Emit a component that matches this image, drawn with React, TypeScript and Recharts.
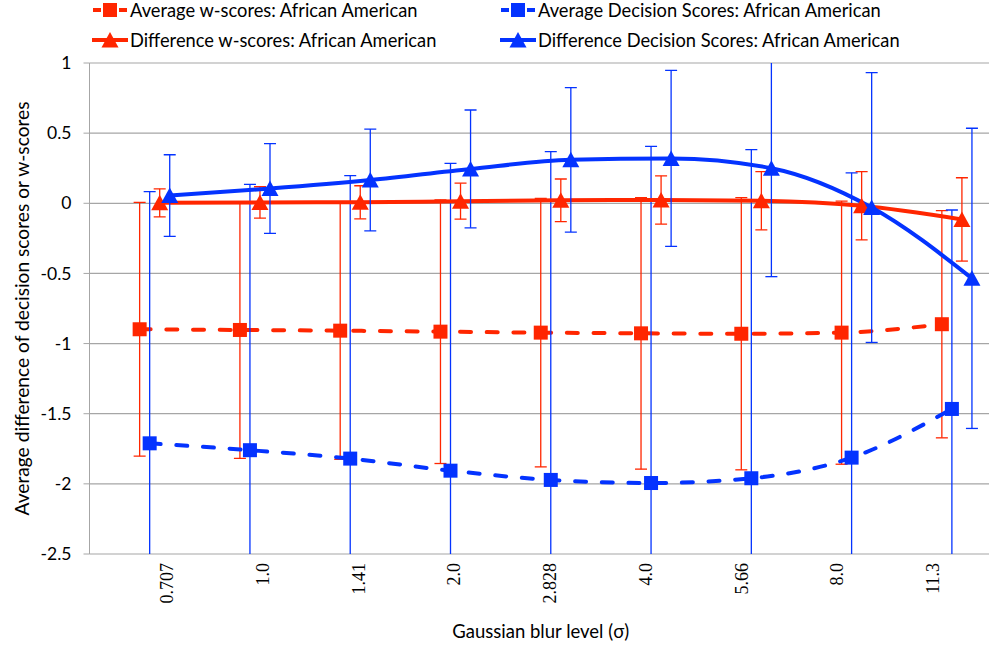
import React from 'react';
import { ComposedChart, Line, XAxis, YAxis, CartesianGrid, ErrorBar, Label } from 'recharts';

const categories = ['0.707', '1.0', '1.41', '2.0', '2.828', '4.0', '5.66', '8.0', '11.3'];

const avgW = [-0.898, -0.903, -0.908, -0.915, -0.922, -0.927, -0.93, -0.922, -0.862];
const avgWErr = [0.905, 0.915, 0.917, 0.94, 0.957, 0.968, 0.97, 0.938, 0.81];

const avgD = [-1.711, -1.76, -1.82, -1.906, -1.972, -1.994, -1.96, -1.813, -1.466];
const avgDErr = [1.794, 1.895, 2.017, 2.19, 2.34, 2.4, 2.342, 2.03, 1.418];

const diffW = [0.003, 0.006, 0.007, 0.015, 0.021, 0.024, 0.018, -0.018, -0.115];
const diffWErr = [0.1, 0.112, 0.118, 0.128, 0.152, 0.172, 0.207, 0.243, 0.297];

const diffD = [0.055, 0.105, 0.166, 0.245, 0.31, 0.32, 0.25, -0.03, -0.535];
const diffDErr = [0.291, 0.32, 0.363, 0.42, 0.515, 0.627, 0.773, 0.962, 1.07];

const yTicks = [-2.5, -2, -1.5, -1, -0.5, 0, 0.5, 1];

const RED = '#FF2600';
const BLUE = '#0433FF';
const GRID = '#A6A6A6';
const FONT = 'Lato, "Open Sans", sans-serif';
const SERIF = '"Liberation Serif", "DejaVu Serif", serif';

const CHART_W = 1000;
const CHART_H = 645;
const MARGIN = { top: 63, right: 8, bottom: 0, left: 0 };
const Y_AXIS_W = 89.5;
const X_AXIS_H = 91;
const PLOT = {
  x: MARGIN.left + Y_AXIS_W,
  y: MARGIN.top,
  w: CHART_W - MARGIN.left - MARGIN.right - Y_AXIS_W,
  h: CHART_H - MARGIN.top - MARGIN.bottom - X_AXIS_H,
};

type Pt = { x: number; y: number; err: number };
const build = (vals: number[], errs: number[], off: number): Pt[] =>
  vals.map((v, i) => ({ x: i + off, y: v, err: errs[i] }));

const seriesDefs = [
  { name: 'Average w-scores: African American', data: build(avgW, avgWErr, 0.5), color: RED, marker: 'square', dashed: true },
  { name: 'Average Decision Scores: African American', data: build(avgD, avgDErr, 0.6), color: BLUE, marker: 'square', dashed: true },
  { name: 'Difference w-scores: African American', data: build(diffW, diffWErr, 0.7), color: RED, marker: 'triangle', dashed: false },
  { name: 'Difference Decision Scores: African American', data: build(diffD, diffDErr, 0.8), color: BLUE, marker: 'triangle', dashed: false },
];

const makeDot = (color: string, marker: string) => (props: any) => {
  const { cx, cy, index } = props;
  if (cx == null || cy == null) return <g key={index} />;
  if (marker === 'square') {
    return <rect key={index} x={cx - 7} y={cy - 7} width={14} height={14} fill={color} />;
  }
  return (
    <polygon
      key={index}
      points={`${cx},${cy - 8} ${cx + 8.5},${cy + 7.5} ${cx - 8.5},${cy + 7.5}`}
      fill={color}
    />
  );
};

const XTick = (props: any) => {
  const { x, y, payload } = props;
  const idx = Math.round(payload.value - 0.5);
  return (
    <text
      x={x}
      y={y}
      transform={`rotate(-90 ${x} ${y})`}
      textAnchor="end"
      dominantBaseline="central"
      fontFamily={SERIF}
      fontSize={18}
      fill="#000"
    >
      {categories[idx]}
    </text>
  );
};

const LegendIcon = ({ color, marker, dashed }: { color: string; marker: string; dashed: boolean }) => (
  <svg width={36} height={18} style={{ display: 'block' }}>
    {dashed ? (
      <>
        <line x1={1} y1={9} x2={9} y2={9} stroke={color} strokeWidth={4} />
        <line x1={27} y1={9} x2={35} y2={9} stroke={color} strokeWidth={4} />
      </>
    ) : (
      <line x1={0} y1={9} x2={36} y2={9} stroke={color} strokeWidth={4} />
    )}
    {marker === 'square' ? (
      <rect x={11} y={2} width={14} height={14} fill={color} />
    ) : (
      <polygon points={`18,1 26.5,16.5 9.5,16.5`} fill={color} />
    )}
  </svg>
);

const legendPos = [
  { left: 92, top: -2 },
  { left: 500, top: -2 },
  { left: 92, top: 28 },
  { left: 500, top: 28 },
];

export default function App() {
  return (
    <div
      style={{
        position: 'absolute',
        left: 0,
        top: 0,
        width: 989,
        height: 645,
        overflow: 'hidden',
        background: '#fff',
      }}
    >
      <svg width={0} height={0} style={{ position: 'absolute' }}>
        <defs>
          <clipPath id="plotAreaClip">
            <rect x={PLOT.x} y={PLOT.y} width={PLOT.w} height={PLOT.h} />
          </clipPath>
        </defs>
      </svg>
      <ComposedChart width={CHART_W} height={CHART_H} margin={MARGIN}>
        <CartesianGrid xAxisId="data" vertical={false} stroke={GRID} strokeWidth={1.2} />
        <XAxis
          xAxisId="labels"
          type="number"
          dataKey="x"
          domain={[0, 9]}
          allowDataOverflow
          ticks={categories.map((_, i) => i + 0.5)}
          interval={0}
          padding={{ left: 29.6, right: 11 }}
          axisLine={false}
          tickLine={false}
          tickSize={6}
          tickMargin={3}
          height={X_AXIS_H}
          tick={<XTick />}
        />
        <XAxis xAxisId="data" type="number" dataKey="x" domain={[0, 9]} allowDataOverflow hide height={0} />
        <YAxis
          type="number"
          domain={[-2.5, 1]}
          ticks={yTicks}
          allowDataOverflow
          width={Y_AXIS_W}
          tickSize={6}
          tickMargin={12}
          stroke={GRID}
          tick={{ fill: '#000', fontFamily: FONT, fontSize: 17.5 }}
          tickFormatter={(v: number) => String(v)}
        >
          <Label
            content={() => {
              const cx = 21;
              const cy = PLOT.y + PLOT.h / 2;
              return (
                <text
                  x={cx}
                  y={cy}
                  transform={`rotate(-90 ${cx} ${cy})`}
                  textAnchor="middle"
                  dominantBaseline="central"
                  fontFamily={FONT}
                  fontSize={19.2}
                  fill="#000"
                >
                  Average difference of decision scores or w-scores
                </text>
              );
            }}
          />
        </YAxis>
        {seriesDefs.map((s) => (
          <Line
            key={s.name}
            xAxisId="data"
            data={s.data}
            dataKey="y"
            name={s.name}
            type="monotone"
            stroke={s.color}
            strokeWidth={4}
            strokeDasharray={s.dashed ? '11 15.7' : undefined}
            strokeLinecap={s.dashed ? 'round' : 'butt'}
            dot={makeDot(s.color, s.marker)}
            activeDot={false}
            isAnimationActive={false}
          >
            <ErrorBar
              dataKey="err"
              direction="y"
              width={6}
              stroke={s.color}
              strokeWidth={1.3}
              clipPath="url(#plotAreaClip)"
            />
          </Line>
        ))}
      </ComposedChart>
      <div
        style={{
          position: 'absolute',
          left: PLOT.x,
          width: PLOT.w,
          top: 617,
          textAlign: 'center',
          fontFamily: FONT,
          fontSize: 18.5,
          color: '#000',
          lineHeight: '28px',
        }}
      >
        Gaussian blur level (σ)
      </div>
      {seriesDefs.map((s, i) => (
        <div
          key={s.name}
          style={{
            position: 'absolute',
            left: legendPos[i].left,
            top: legendPos[i].top,
            display: 'flex',
            alignItems: 'center',
            fontFamily: FONT,
            fontSize: 18.3,
            color: '#000',
            whiteSpace: 'nowrap',
            lineHeight: '24px',
          }}
        >
          <LegendIcon color={s.color} marker={s.marker} dashed={s.dashed} />
          <span style={{ marginLeft: 2 }}>{s.name}</span>
        </div>
      ))}
    </div>
  );
}
